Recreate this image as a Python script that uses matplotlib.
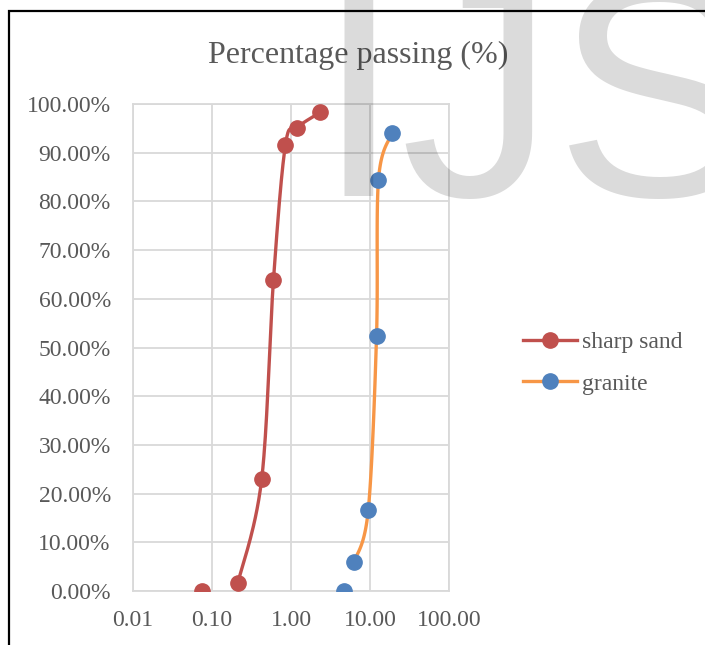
import matplotlib
matplotlib.use("Agg")
import matplotlib.pyplot as plt
import numpy as np
from matplotlib.patches import Rectangle
from matplotlib.ticker import FixedLocator, FixedFormatter

# sieve size (mm) and percentage passing
sand_size = [0.075, 0.212, 0.425, 0.6, 0.85, 1.18, 2.36]
sand_pass = [0.0, 1.6, 22.9, 63.9, 91.6, 95.1, 98.3]
granite_size = [4.75, 6.3, 9.5, 12.1, 12.8, 19.0]
granite_pass = [0.0, 6.0, 16.6, 52.4, 84.4, 94.0]

xticks = [0.01, 0.1, 1, 10, 100]
xtick_labels = ["0.01", "0.10", "1.00", "10.00", "100.00"]
yticks = list(range(0, 101, 10))
ytick_labels = ["%.2f%%" % v for v in yticks]

grey = "#595959"
plt.rcParams['font.family'] = ['Liberation Serif', 'DejaVu Serif']


def smooth(xs, ys, n=30):
    # catmull-rom through the points, done in (log x, y) screen-ish space
    u = np.log10(xs) * 79.0
    v = np.array(ys) * 4.87
    P = np.column_stack([u, v])
    P = np.vstack([P[0], P, P[-1]])
    out = []
    for i in range(1, len(P) - 2):
        p0, p1, p2, p3 = P[i - 1], P[i], P[i + 1], P[i + 2]
        c1 = p1 + (p2 - p0) / 6.0
        c2 = p2 - (p3 - p1) / 6.0
        t = np.linspace(0, 1, n)[:, None]
        seg = (1 - t) ** 3 * p1 + 3 * (1 - t) ** 2 * t * c1 + 3 * (1 - t) * t ** 2 * c2 + t ** 3 * p2
        out.append(seg)
    out = np.vstack(out)
    return 10 ** (out[:, 0] / 79.0), out[:, 1] / 4.87


fig = plt.figure(figsize=(7.05, 6.45), dpi=100)
ax = fig.add_axes([133 / 705, 54 / 645, 316 / 705, 487 / 645])

sx, sy = smooth(sand_size[1:], sand_pass[1:])
gx, gy = smooth(granite_size[1:], granite_pass[1:])
ax.plot(sx, sy, color="#c0504d", lw=2.4, zorder=3)
ax.plot(gx, gy, color="#f79646", lw=2.4, zorder=3)
ax.plot(sand_size, sand_pass, "o", color="#c0504d", ms=11, zorder=4)
ax.plot(granite_size, granite_pass, "o", color="#4f81bd", ms=11, zorder=4)

ax.set_xscale("log")
ax.set_xlim(0.01, 100)
ax.set_ylim(0, 100)
ax.xaxis.set_major_locator(FixedLocator(xticks))
ax.xaxis.set_major_formatter(FixedFormatter(xtick_labels))
ax.xaxis.set_minor_locator(FixedLocator([]))
ax.set_yticks(yticks)
ax.set_yticklabels(ytick_labels)
ax.tick_params(length=0, labelsize=17, labelcolor=grey)
ax.tick_params(axis="y", pad=16)
ax.tick_params(axis="x", pad=14)
ax.grid(True, color="#d9d9d9", lw=1.3)
for s in ax.spines.values():
    s.set_color("#d9d9d9")
    s.set_linewidth(1.3)
ax.set_axisbelow(True)

# legend
h1, = ax.plot([], [], "-o", color="#c0504d", lw=2.4, ms=11, markerfacecolor="#c0504d")
h2, = ax.plot([], [], "-o", color="#f79646", lw=2.4, ms=11, markerfacecolor="#4f81bd", markeredgecolor="#4f81bd")
fig.legend([h1, h2], ["sharp sand", "granite"], loc="center left", bbox_to_anchor=(511 / 705, 1 - 363 / 645),
           frameon=False, fontsize=17, labelcolor=grey, handlelength=2.3, handletextpad=0.2,
           labelspacing=0.85, borderpad=0)

fig.text(358 / 705, 1 - 55 / 645, "Percentage passing (%)", ha="center", va="center", fontsize=23, color=grey)

# chart frame (only left and top visible)
fig.patches.append(Rectangle((8.5 / 705, -0.1), 1.2, 1 - 11 / 645 + 0.1, transform=fig.transFigure,
                             fill=False, edgecolor="black", lw=1.6))

# watermark
fig.text(315 / 705, 1 - 196 / 645, "IJS", fontsize=222, family="Liberation Sans", color="black",
         alpha=0.14, ha="left", va="baseline", zorder=10)

fig.savefig("out.png", dpi=100)
